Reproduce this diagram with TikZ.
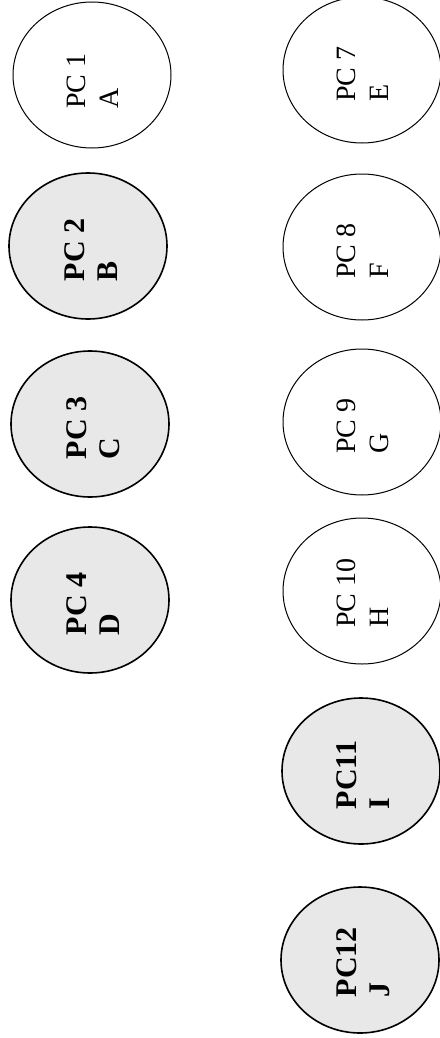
\documentclass[tikz,border=0pt]{standalone}
\usepackage{fontspec}
\setmainfont{Liberation Serif}
\usetikzlibrary{shapes.geometric,calc}
\tikzset{
  disc/.style={ellipse, draw=black, line width=1pt, minimum width=158pt, minimum height=146pt, inner sep=0pt},
  shadeddisc/.style={disc, line width=1.6pt, fill=black!9},
  plainlbl/.style={rotate=90, align=left, inner sep=0pt, font=\fontsize{28}{33}\selectfont},
  boldlbl/.style={rotate=90, align=left, inner sep=0pt, font=\fontsize{30}{33}\selectfont\bfseries},
}
\begin{document}
\begin{tikzpicture}[x=1pt,y=-1pt]
\useasboundingbox (0,0) rectangle (439,1038);
\fill[white] (0,0) rectangle (439,1038);
% left column
\node[disc] (c1) at (92,75) {};
\node[plainlbl] (t1) at ($(c1.center)+(1,6)$) {PC 1\\A};
\node[shadeddisc] (c2) at (88,246) {};
\node[boldlbl] (t2) at ($(c2.center)+(3,4)$) {PC 2\\B};
\node[shadeddisc] (c3) at (90,424) {};
\node[boldlbl] (t3) at ($(c3.center)+(3,4)$) {PC 3\\C};
\node[shadeddisc] (c4) at (90,600) {};
\node[boldlbl] (t4) at ($(c4.center)+(3,4)$) {PC 4\\D};
% right column
\node[disc] (c7) at (362,70) {};
\node[plainlbl] (t7) at ($(c7.center)+(1,4)$) {PC 7\\E};
\node[disc] (c8) at (362,247) {};
\node[plainlbl] (t8) at ($(c8.center)+(1,4)$) {PC 8\\F};
\node[disc] (c9) at (362,422) {};
\node[plainlbl] (t9) at ($(c9.center)+(1,4)$) {PC 9\\G};
\node[disc] (c10) at (362,591) {};
\node[plainlbl] (t10) at ($(c10.center)+(1,2)$) {PC 10\\H};
\node[shadeddisc] (c11) at (361,771) {};
\node[boldlbl] (t11) at ($(c11.center)+(2,4)$) {PC11\\I};
\node[shadeddisc] (c12) at (360,960) {};
\node[boldlbl] (t12) at ($(c12.center)+(3,2)$) {PC12\\J};
\end{tikzpicture}
\end{document}
